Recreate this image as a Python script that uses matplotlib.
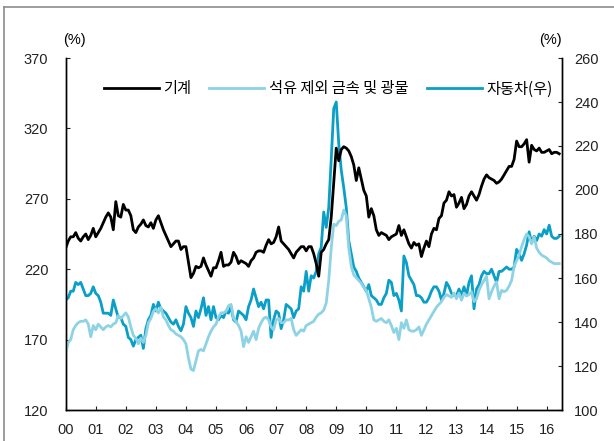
import numpy as np
import matplotlib
matplotlib.use("Agg")
import matplotlib.pyplot as plt
from matplotlib.lines import Line2D

plt.rcParams["font.family"] = ["Liberation Sans", "Noto Sans CJK KR"]

# monthly values, Jan 2000 .. Jun 2016
machinery = [
    235, 240, 243, 243, 246, 242, 240, 243, 245, 241, 244, 249,
    243, 246, 249, 253, 257, 260, 257, 248, 268, 258, 257, 266,
    262, 262, 258, 248, 246, 250, 252, 255, 251, 250, 253, 249,
    255, 258, 253, 248, 244, 240, 236, 238, 240, 240, 234, 236,
    236, 225, 214, 217, 222, 221, 222, 228, 223, 219, 215, 221,
    221, 226, 232, 222, 223, 223, 225, 232, 229, 224, 226, 225,
    224, 222, 226, 228, 232, 233, 233, 232, 237, 241, 238, 239,
    243, 250, 240, 238, 236, 234, 231, 228, 232, 234, 236, 236,
    233, 236, 236, 231, 224, 215, 232, 234, 238, 241, 257, 281,
    306, 297, 305, 307, 306, 304, 300, 294, 283, 292, 284, 276,
    272, 257, 263, 258, 248, 244, 246, 245, 244, 241, 243, 244,
    245, 251, 244, 248, 243, 238, 235, 239, 237, 238, 229, 235,
    240, 236, 245, 249, 248, 256, 258, 267, 269, 275, 272, 273,
    264, 267, 271, 263, 266, 272, 275, 272, 269, 273, 279, 284,
    287, 285, 284, 283, 281, 282, 284, 287, 290, 293, 293, 298,
    311, 307, 307, 309, 312, 296, 308, 305, 304, 306, 303, 303,
    304, 305, 302, 303, 303, 302,
]
metals = [
    160, 168, 170, 177, 180, 182, 183, 183, 184, 181, 172, 180,
    177, 181, 179, 177, 179, 180, 179, 181, 182, 187, 185, 187,
    189, 186, 179, 173, 171, 167, 171, 168, 173, 182, 185, 190,
    192, 189, 193, 186, 184, 180, 177, 176, 174, 173, 172, 170,
    167, 157, 149, 148, 155, 162, 163, 162, 167, 172, 176, 179,
    181, 186, 189, 189, 190, 194, 195, 185, 183, 180, 176, 165,
    172, 168, 172, 176, 170, 178, 182, 185, 186, 184, 179, 177,
    184, 185, 182, 182, 184, 184, 185, 177, 173, 175, 177, 176,
    180, 181, 182, 183, 186, 188, 189, 191, 196, 212, 235, 252,
    251, 254, 255, 262, 258, 235, 222, 216, 214, 212, 210, 207,
    205, 199, 193, 184, 183, 184, 185, 183, 182, 184, 180, 175,
    178, 170, 182, 178, 184, 177, 176, 176, 177, 179, 173, 177,
    181, 184, 187, 190, 193, 195, 197, 200, 202, 201, 200, 203,
    199, 203, 198, 203, 201, 202, 204, 197, 199, 205, 209, 212,
    215, 199, 204, 208, 211, 199, 205, 204, 205, 208, 212, 222,
    226, 230, 236, 241, 245, 243, 238, 243, 235, 232, 230, 229,
    228, 226, 225, 224, 224, 224,
]
autos = [
    150, 151, 154, 154, 158, 157, 158, 155, 152, 152, 153, 156,
    153, 152, 149, 144, 144, 144, 143, 150, 146, 142, 142, 139,
    138, 133, 132, 129, 132, 133, 134, 128, 137, 141, 143, 148,
    145, 149, 146, 145, 144, 142, 140, 139, 141, 138, 136, 139,
    147, 144, 142, 138, 145, 142, 146, 151, 143, 147, 141, 147,
    142, 141, 143, 142, 145, 144, 147, 141, 140, 145, 144, 143,
    141, 147, 150, 155, 151, 147, 149, 146, 150, 150, 133, 141,
    145, 144, 137, 141, 148, 147, 146, 142, 145, 146, 156, 154,
    163, 154, 161, 160, 163, 171, 174, 190, 183, 192, 214, 237,
    240, 221, 209, 201, 192, 177, 171, 165, 163, 160, 158, 156,
    154, 157, 152, 151, 150, 148, 148, 151, 153, 159, 158, 152,
    153, 150, 145, 170, 167, 161, 159, 157, 152, 152, 151, 149,
    149, 151, 154, 156, 156, 154, 150, 153, 158, 156, 153, 152,
    152, 155, 152, 156, 152, 158, 161, 146, 155, 157, 161, 163,
    162, 162, 164, 161, 158, 163, 163, 164, 165, 164, 164, 165,
    173, 171, 168, 171, 175, 181, 176, 179, 177, 180, 179, 182,
    180, 184, 179, 178, 178, 179,
]
years = list(range(2000, 2017))
labels = ["기계", "석유 제외 금속 및 광물", "자동차(우)"]

x = 2000 + np.arange(len(machinery)) / 12

fig = plt.figure(figsize=(6.14, 4.41), dpi=100)
ax = fig.add_axes([65.7 / 614, 31 / 441, 496 / 614, 352 / 441])
ax2 = ax.twinx()
ax.set_zorder(ax2.get_zorder() + 1)
ax.patch.set_visible(False)

c_black, c_light, c_teal = "#000000", "#8dd3e5", "#0a9fc6"
ax2.plot(x, autos, color=c_teal, lw=2.0)
ax.plot(x, metals, color=c_light, lw=2.0)
ax.plot(x, machinery, color=c_black, lw=2.0)

ax.set_xlim(2000, 2016.5)
ax.set_ylim(120, 370)
ax2.set_ylim(100, 260)
ax.set_xticks(years)
ax.set_xticklabels([f"{y % 100:02d}" for y in years])
ax.set_yticks(range(120, 371, 50))
ax2.set_yticks(range(100, 261, 20))

for a in (ax, ax2):
    a.spines["top"].set_visible(False)
    for s in a.spines.values():
        s.set_linewidth(1.0)
    a.tick_params(direction="in", length=3, width=0.8, colors="#222222",
                  labelsize=10.5)
ax.tick_params(axis="y", pad=12.5)
ax.tick_params(axis="x", pad=9)
ax2.tick_params(axis="y", pad=9)

handles = [Line2D([], [], color=c, lw=2.0) for c in (c_black, c_light, c_teal)]
ax.legend(handles, labels, loc="center", bbox_to_anchor=(0.529, 0.912),
          ncol=3, frameon=False, handlelength=3.6, handletextpad=0.3,
          columnspacing=1.2, prop={"family": ["Noto Sans CJK KR"], "size": 11})

fig.text(74 / 614, 1 - 40 / 441, "(%)", ha="center", va="center", fontsize=10.5)
fig.text(550 / 614, 1 - 40 / 441, "(%)", ha="center", va="center", fontsize=10.5)

# grey frame of the original clip (top and left edges)
fig.add_artist(Line2D([4 / 614, 4 / 614], [0, 1 - 7 / 441], transform=fig.transFigure,
                      color="#8c8c8c", lw=1.2))
fig.add_artist(Line2D([4 / 614, 1], [1 - 7 / 441, 1 - 7 / 441], transform=fig.transFigure,
                      color="#8c8c8c", lw=1.2))

fig.savefig("out.png", dpi=100)
print("Saved out.png")
